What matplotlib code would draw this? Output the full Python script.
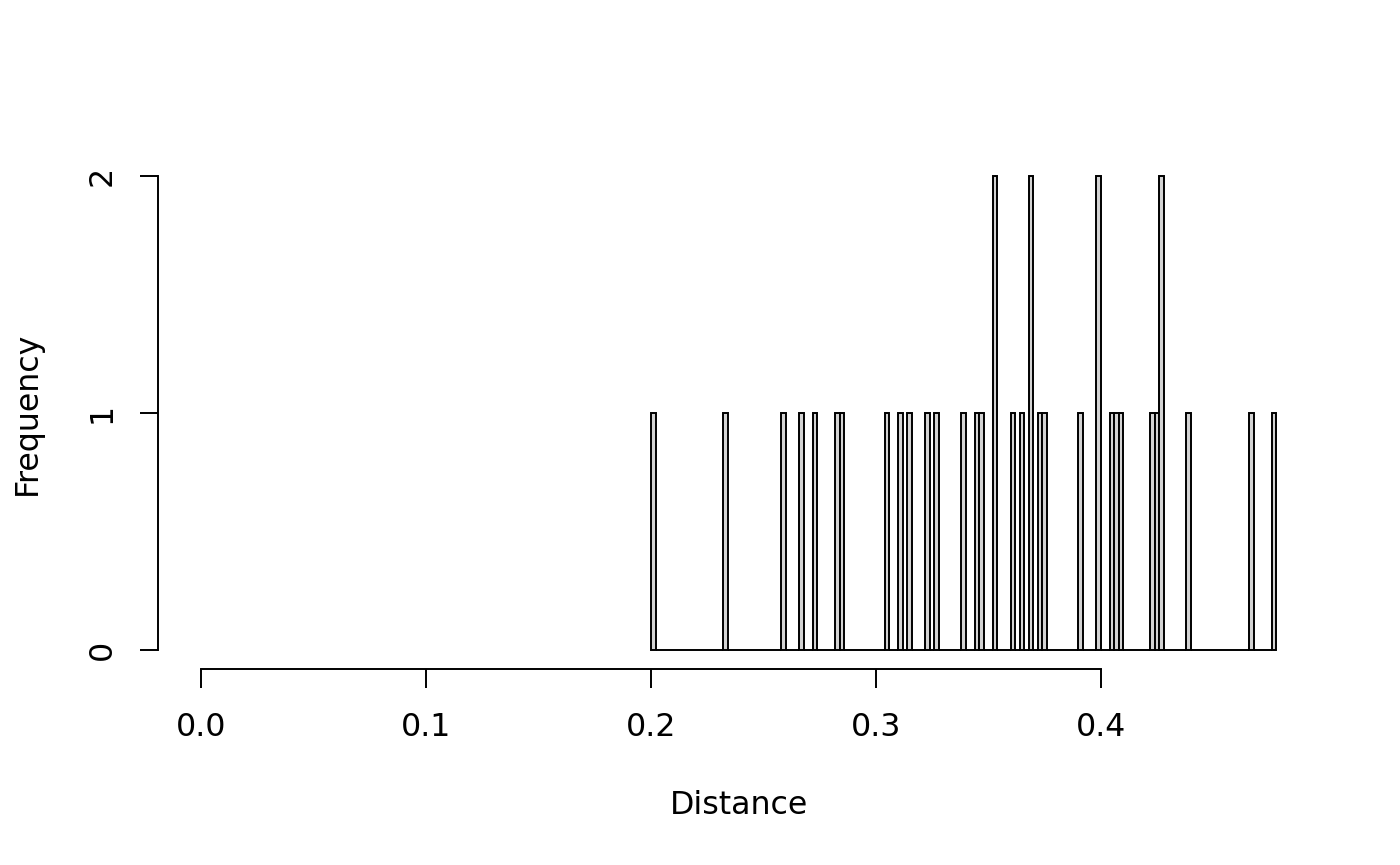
import numpy as np
import matplotlib
matplotlib.use("Agg")
import matplotlib.pyplot as plt

# Histogram bins (width 0.002) from 0.200 to 0.478
bin_start = 0.200
bin_end = 0.478
bin_width = 0.002

# Bins with non-zero counts: left edge and count
bin_lefts = [0.200, 0.232, 0.258, 0.266, 0.272, 0.282, 0.284, 0.304, 0.310,
             0.314, 0.322, 0.326, 0.338, 0.344, 0.346, 0.352, 0.360, 0.364,
             0.368, 0.372, 0.374, 0.390, 0.398, 0.404, 0.406, 0.408, 0.422,
             0.424, 0.426, 0.438, 0.466, 0.476]
bin_counts = [1, 1, 1, 1, 1, 1, 1, 1, 1,
              1, 1, 1, 1, 1, 1, 2, 1, 1,
              2, 1, 1, 1, 2, 1, 1, 1, 1,
              1, 2, 1, 1, 1]

x_ticks = [0.0, 0.1, 0.2, 0.3, 0.4]
x_ticklabels = ["0.0", "0.1", "0.2", "0.3", "0.4"]
y_ticks = [0, 1, 2]
y_ticklabels = ["0", "1", "2"]

plt.rcParams['font.family'] = ['DejaVu Sans']
FS = 22.8

W, H = 1400, 865
fig = plt.figure(figsize=(W / 100, H / 100), dpi=100)
left, right, top, bottom = 158, 1324, 157, 669
ax = fig.add_axes([left / W, (H - bottom) / H, (right - left) / W, (bottom - top) / H])

n_bins = int(round((bin_end - bin_start) / bin_width))
edges = np.linspace(bin_start, bin_end, n_bins + 1)
centers = [l + bin_width / 2 for l in bin_lefts]
ax.hist(centers, bins=edges, weights=bin_counts, facecolor="#d3d3d3",
        edgecolor="black", linewidth=1.4)

xmax = 0.48
ax.set_xlim(-0.04 * xmax, xmax * 1.04)
ax.set_ylim(-0.08, 2.08)

for s in ["top", "right"]:
    ax.spines[s].set_visible(False)
ax.spines["left"].set_bounds(0, 2)
ax.spines["bottom"].set_bounds(0, 0.4)
for s in ["left", "bottom"]:
    ax.spines[s].set_linewidth(1.4)

ax.set_xticks(x_ticks)
ax.set_xticklabels(x_ticklabels)
ax.set_yticks(y_ticks)
ax.set_yticklabels(y_ticklabels, rotation=90, va="center")
ax.tick_params(axis="x", length=13.7, width=1.4, pad=17, labelsize=FS)
ax.tick_params(axis="y", length=13, width=1.4, pad=16, labelsize=FS)

fig.text(739 / W, 1 - 805 / H, "Distance", ha="center", va="center", fontsize=FS)
fig.text(27 / W, 1 - 413 / H, "Frequency", ha="center", va="center",
         rotation=90, fontsize=FS)

fig.savefig("out.png", dpi=100, facecolor="white")
